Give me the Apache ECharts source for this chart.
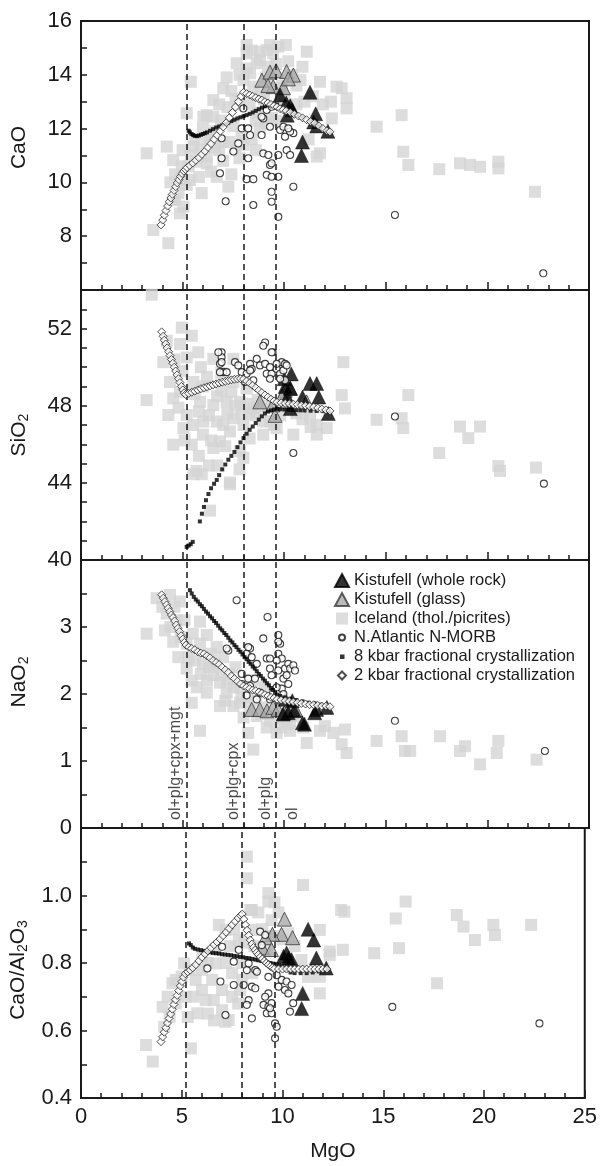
<!DOCTYPE html>
<html>
<head>
<meta charset="utf-8">
<script src="https://cdn.jsdelivr.net/npm/echarts@6/dist/echarts.min.js"></script>
<style>
html,body{margin:0;padding:0;background:#fff;}
#chart{width:600px;height:1166px;}
</style>
</head>
<body>
<div id="chart"></div>
<script>
// ---------- axis / label data ----------
const mgoTickLabels = [0, 5, 10, 15, 20, 25];
const caoTickLabels = [8, 10, 12, 14, 16];
const sio2TickLabels = [40, 44, 48, 52];
const naTickLabels = [0, 1, 2, 3];
const ratioTickLabels = [0.4, 0.6, 0.8, 1.0];

const mgoBoundaries = [5.2, 8.0, 9.6];
const phaseLabels = ['ol+plg+cpx+mgt', 'ol+plg+cpx', 'ol+plg', 'ol'];
const phaseLabelX = [4.66, 7.5, 9.06, 10.43];
const phaseLabelY = [0.12, 0.12, 0.12, 0.12];

const seriesNames = ['Kistufell (whole rock)', 'Kistufell (glass)', 'Iceland (thol./picrites)',
  'N.Atlantic N-MORB', '8 kbar fractional crystallization', '2 kbar fractional crystallization'];

// ---------- CaO panel ----------
const caoRock = [[9.8,13.25],[10.15,12.5],[10.3,12.85],[10.4,12.7],[11.27,13.35],[11.55,12.55],[11.6,12.1],[12.15,11.9],[10.9,11.5],[10.85,11.0],[11.45,12.25],[10.1,12.95]];
const caoGlass = [[8.9,13.8],[9.3,14.1],[9.6,14.15],[9.46,13.56],[9.96,13.52],[10.12,14.12],[10.45,13.99],[9.2,13.6],[10.2,13.85]];
const caoIceland = [[3.23,11.08],[3.56,8.23],[4.3,7.74],[4.22,11.33],[4.54,10.83],[4.63,10.3],[4.63,9.35],[4.87,8.85],[4.54,9.35],[5.04,9.1],[5.2,9.9],[4.96,10.6],[5.36,10.09],[5.69,10.77],[5.53,11.33],[5.94,9.6],[6.19,10.71],[6.19,10.96],[6.35,11.58],[6.68,10.21],[7.25,9.84],[6.8,11.2],[7.3,11.5],[7.0,10.8],[7.6,11.3],[7.9,11.7],[8.4,11.6],[8.8,12.0],[7.5,12.1],[6.9,12.3],[6.0,12.0],[5.2,12.57],[6.02,12.44],[6.19,12.5],[6.51,12.44],[6.51,13.06],[5.4,13.74],[7.17,13.9],[7.66,14.43],[8.15,14.24],[8.15,15.11],[8.15,14.8],[8.32,14.06],[8.65,14.43],[8.81,14.55],[8.81,14.86],[9.14,14.92],[9.3,15.11],[9.46,14.8],[9.71,15.05],[10.08,15.11],[8.48,13.56],[8.0,13.8],[8.8,13.4],[9.1,13.9],[9.6,14.4],[10.2,14.5],[10.6,13.6],[10.0,13.1],[9.4,12.4],[10.6,12.9],[11.0,13.0],[11.11,14.86],[11.76,13.74],[12.58,13.56],[12.83,13.5],[13.07,13.13],[13.07,12.75],[12.34,12.38],[11.6,10.96],[11.76,11.08],[11.2,11.6],[6.6,11.9],[7.2,12.8],[7.8,12.9],[8.6,12.3],[5.8,10.2],[5.0,11.2],[9.9,13.6],[10.8,13.8],
  [4.4,10.0],[4.8,9.6],[5.3,10.6],[5.6,11.6],[5.9,11.2],[6.4,10.4],[6.6,11.3],[7.0,11.5],[7.4,10.3],[7.8,10.9],[8.0,11.4],[8.6,11.2],[8.7,12.6],[9.1,12.2],[9.6,12.3],[9.8,13.5],[9.2,14.3],[8.4,14.9],[7.4,13.4],[6.8,12.9],[7.8,14.0],[10.4,14.0],[10.9,14.3],[11.4,13.2],[11.9,12.9],[12.3,13.0],[7.6,13.1],[8.3,12.9],[9.0,13.1],[7.0,13.5],[6.2,11.6],[5.4,11.0],[4.9,10.1],
  [14.55,12.07],[15.78,12.5],[15.86,11.14],[16.11,10.65],[17.63,10.49],[18.65,10.71],[19.14,10.65],[19.64,10.58],[20.54,10.77],[20.54,10.52],[22.34,9.65]];
const caoMorb = [[6.92,11.64],[6.92,10.9],[6.84,10.34],[7.12,9.3],[7.5,11.15],[7.74,11.45],[7.91,12.01],[7.99,12.75],[8.23,12.01],[8.32,11.76],[8.23,10.9],[8.15,10.12],[8.48,10.12],[8.48,9.16],[8.89,11.76],[8.97,12.38],[8.89,12.44],[9.14,12.69],[8.97,11.08],[9.22,11.02],[9.3,10.65],[9.14,10.28],[9.38,10.21],[9.38,10.71],[9.71,10.21],[9.38,9.65],[9.38,9.28],[9.71,8.72],[9.3,12.07],[9.38,12.81],[9.71,11.02],[9.8,11.95],[9.96,12.07],[10.04,11.7],[10.12,11.2],[10.29,11.02],[10.45,11.83],[10.29,11.89],[10.2,12.01],[10.45,9.84],[15.45,8.79],[22.75,6.62]];
const cao8kbar = [[5.3,11.92],[5.36,11.86],[5.44,11.8],[5.52,11.76],[5.6,11.73],[5.7,11.72],[5.8,11.74],[5.9,11.77],[6.0,11.8],[6.1,11.83],[6.2,11.86],[6.35,11.92],[6.5,11.98],[6.65,12.04],[6.8,12.08],[6.95,12.12],[7.1,12.17],[7.25,12.22],[7.4,12.28],[7.55,12.33],[7.7,12.38],[7.85,12.42],[8.0,12.46],[8.15,12.5],[8.3,12.55],[8.45,12.6],[8.6,12.66],[8.75,12.72],[8.9,12.78],[9.05,12.83],[9.2,12.87],[9.35,12.9],[9.5,12.92],[9.65,12.9],[9.8,12.8],[10.0,12.7],[10.3,12.6],[10.6,12.5],[10.9,12.4],[11.2,12.3],[11.5,12.2],[11.8,12.05],[12.1,11.92]];
const cao2kbar = [[3.94,8.42],[4.02,8.6],[4.1,8.78],[4.18,8.95],[4.26,9.12],[4.34,9.28],[4.42,9.42],[4.5,9.56],[4.58,9.7],[4.66,9.84],[4.74,9.98],[4.82,10.1],[4.9,10.22],[4.98,10.33],[5.06,10.42],[5.14,10.48],[5.22,10.55],[5.35,10.63],[5.5,10.72],[5.65,10.82],[5.8,10.92],[5.95,11.04],[6.1,11.16],[6.25,11.3],[6.4,11.44],[6.55,11.6],[6.7,11.75],[6.85,11.9],[7.0,12.06],[7.15,12.22],[7.3,12.4],[7.45,12.6],[7.6,12.8],[7.75,13.0],[7.88,13.2],[8.0,13.35],[8.15,13.3],[8.3,13.25],[8.45,13.2],[8.6,13.15],[8.75,13.1],[8.9,13.06],[9.05,13.0],[9.2,12.95],[9.35,12.9],[9.5,12.85],[9.65,12.8],[9.8,12.74],[9.95,12.7],[10.1,12.66],[10.3,12.6],[10.5,12.53],[10.7,12.47],[10.9,12.4],[11.1,12.33],[11.3,12.26],[11.5,12.2],[11.7,12.1],[11.9,12.0],[12.1,11.92],[12.25,11.88]];

// ---------- SiO2 panel ----------
const sio2Rock = [[10.0,49.4],[10.35,49.65],[10.05,49.0],[10.3,48.9],[11.27,49.15],[11.6,49.15],[10.9,48.45],[11.7,48.45],[12.17,47.6],[10.3,47.85],[10.15,48.45]];
const sio2Glass = [[8.8,48.2],[9.45,48.05],[9.55,47.5],[10.05,48.8],[10.3,48.9],[10.1,48.2],[11.1,48.2],[9.9,48.5]];
const sio2Iceland = [[3.48,53.76],[3.23,48.29],[4.05,50.26],[4.22,51.37],[4.96,52.05],[4.87,51.2],[5.45,51.63],[5.77,50.77],[4.38,49.23],[4.54,48.38],[4.3,47.52],[5.2,47.52],[4.54,45.98],[5.45,45.98],[5.04,46.84],[5.53,44.45],[5.94,44.45],[6.35,42.56],[7.33,43.93],[6.51,45.81],[6.84,46.15],[6.02,47.18],[6.68,47.18],[7.5,47.35],[7.33,46.67],[7.83,45.64],[7.99,45.3],[5.86,48.2],[6.51,48.03],[7.17,48.2],[7.83,48.2],[7.5,49.23],[6.51,50.43],[7.5,50.43],[8.15,48.89],[8.48,47.86],[8.97,47.18],[8.97,46.5],[10.45,46.5],[9.63,46.84],[4.87,48.72],[5.53,49.23],[5.69,44.62],[7.33,44.02],[11.6,47.01],[11.27,47.52],[12.09,46.84],[11.6,46.5],[6.2,49.5],[6.9,48.8],[8.7,48.3],[9.2,47.9],[9.8,47.5],[10.9,47.3],[5.2,50.5],[6.0,46.5],[8.0,47.0],[6.3,44.9],[7.8,44.7],[5.0,49.8],[5.9,50.0],[6.9,49.7],[7.2,47.6],[8.3,47.6],[9.3,47.2],
  [5.5,47.0],[5.8,47.7],[6.3,47.5],[6.7,48.5],[7.0,47.0],[7.6,48.0],[7.9,47.6],[8.2,48.1],[8.6,47.5],[9.1,48.0],[9.5,47.0],[6.4,46.2],[7.1,45.9],[5.6,48.6],[4.8,47.9],[5.1,46.2],[5.8,45.4],[6.7,44.9],[7.4,48.7],[6.0,49.0],[8.3,46.3],[4.6,50.4],[10.6,47.6],[11.3,46.9],
  [12.91,50.26],[12.83,48.55],[12.99,47.86],[14.55,47.27],[16.11,48.55],[15.78,47.35],[15.86,46.84],[17.63,45.55],[18.65,46.92],[19.06,46.32],[19.64,46.92],[20.54,44.87],[20.62,44.62],[22.39,44.79]];
const sio2Morb = [[9.06,51.28],[8.97,51.11],[9.43,50.77],[6.92,50.77],[6.92,50.51],[6.84,50.17],[7.0,49.74],[7.58,50.26],[7.74,50.09],[7.91,49.74],[8.32,50.17],[8.4,49.91],[8.65,50.43],[8.81,50.09],[9.06,50.17],[9.3,50.0],[9.14,49.66],[9.38,49.66],[9.63,49.91],[9.88,50.26],[10.04,50.17],[9.8,49.66],[9.3,49.4],[8.15,49.66],[8.07,49.23],[8.48,49.32],[8.32,49.83],[9.96,49.83],[10.04,49.32],[6.76,50.77],[6.92,50.26],[6.84,49.74],[7.17,49.74],[9.38,50.77],[9.63,50.17],[10.12,50.09],[9.8,49.4],[10.45,45.55],[15.45,47.44],[22.78,43.96]];
const sio28kbar = [[5.2,40.68],[5.3,40.75],[5.4,40.82],[5.5,40.94],[5.85,42.0],[5.95,42.4],[6.05,42.75],[6.15,43.1],[6.27,43.42],[6.4,43.72],[6.55,43.95],[6.68,44.15],[6.8,44.4],[6.95,44.7],[7.1,44.95],[7.25,45.2],[7.4,45.4],[7.55,45.6],[7.7,45.85],[7.85,46.1],[8.0,46.32],[8.15,46.55],[8.3,46.75],[8.45,46.92],[8.6,47.1],[8.75,47.28],[8.9,47.45],[9.05,47.6],[9.2,47.7],[9.35,47.76],[9.5,47.8],[9.65,47.84],[9.8,47.82],[10.0,47.8],[10.2,47.79],[10.4,47.78],[10.6,47.77],[10.8,47.76],[11.0,47.75],[11.3,47.74],[11.6,47.73],[11.9,47.72],[12.2,47.7]];
const sio22kbar = [[3.97,51.83],[4.04,51.6],[4.1,51.4],[4.17,51.2],[4.24,51.0],[4.31,50.8],[4.38,50.6],[4.45,50.4],[4.52,50.2],[4.59,50.0],[4.66,49.8],[4.73,49.6],[4.8,49.4],[4.87,49.2],[4.94,49.0],[5.01,48.82],[5.08,48.66],[5.15,48.58],[5.3,48.64],[5.45,48.7],[5.6,48.76],[5.75,48.82],[5.9,48.88],[6.05,48.93],[6.2,48.98],[6.35,49.03],[6.5,49.08],[6.65,49.13],[6.8,49.18],[6.95,49.22],[7.1,49.26],[7.25,49.3],[7.4,49.34],[7.55,49.37],[7.7,49.39],[7.85,49.4],[8.0,49.38],[8.15,49.28],[8.3,49.17],[8.45,49.05],[8.6,48.93],[8.75,48.8],[8.9,48.68],[9.05,48.56],[9.2,48.45],[9.35,48.34],[9.5,48.25],[9.65,48.18],[9.85,48.15],[10.05,48.12],[10.25,48.1],[10.45,48.08],[10.65,48.06],[10.85,48.03],[11.05,48.0],[11.25,47.97],[11.45,47.93],[11.65,47.88],[11.85,47.83],[12.05,47.78],[12.25,47.73]];

// ---------- NaO2 panel ----------
const naRock = [[10.05,1.92],[10.4,1.9],[10.2,1.72],[9.95,1.7],[10.9,1.57],[11.0,1.55],[11.5,1.72],[11.6,1.77],[12.1,1.8],[10.5,1.75]];
const naGlass = [[8.4,1.77],[8.8,1.77],[9.15,1.75],[9.45,1.8],[9.7,1.77],[10.0,1.72],[10.3,1.77],[10.55,1.77]];
const naIceland = [[3.23,2.9],[3.72,3.43],[4.38,3.48],[4.87,3.38],[4.22,3.2],[4.13,2.95],[4.54,2.78],[4.79,2.55],[5.2,2.38],[5.45,2.2],[5.45,1.87],[5.86,1.45],[5.86,3.08],[6.19,2.88],[6.68,2.7],[6.51,2.28],[6.84,2.17],[7.17,2.02],[7.5,1.82],[7.83,1.87],[8.23,1.42],[8.48,1.17],[8.65,1.67],[9.14,1.5],[9.63,1.42],[10.12,1.57],[5.86,2.75],[6.19,2.02],[6.84,1.82],[5.1,3.1],[5.5,2.9],[6.0,2.45],[7.0,2.55],[7.3,2.3],[7.8,2.1],[8.2,1.95],[8.6,1.9],[9.0,1.8],[9.4,1.7],[9.9,1.65],[4.6,3.3],[5.3,2.55],[6.4,2.6],[7.6,2.4],[8.4,2.2],[9.0,2.1],
  [4.0,3.3],[4.4,3.0],[4.9,2.85],[5.2,2.75],[5.6,2.5],[5.9,2.3],[6.3,2.4],[6.6,2.45],[6.9,2.3],[7.2,2.2],[7.5,2.1],[7.9,1.95],[8.3,1.8],[8.9,1.7],[9.3,1.6],[9.8,1.5],[10.3,1.55],[6.2,2.2],[5.7,2.1],[7.1,1.9],[8.0,1.65],[4.7,3.1],
  [10.45,1.67],[10.29,1.45],[10.94,1.5],[11.11,1.27],[11.76,1.45],[12.42,1.42],[12.0,1.52],[12.99,1.47],[12.83,1.25],[13.07,1.12],[14.55,1.3],[15.78,1.37],[15.94,1.15],[16.2,1.15],[17.67,1.37],[18.65,1.15],[18.9,1.22],[19.64,0.95],[20.54,1.3],[20.46,1.12],[22.42,1.02]];
const naMorb = [[7.66,3.4],[9.18,3.15],[9.71,2.88],[9.8,2.75],[9.71,2.6],[8.97,2.83],[8.32,2.68],[8.15,2.6],[8.4,2.55],[8.65,2.45],[7.25,2.65],[7.91,2.3],[8.23,2.23],[8.56,2.23],[7.91,2.15],[8.32,2.12],[9.14,2.53],[9.3,2.38],[9.38,2.28],[9.71,2.35],[9.96,2.23],[10.04,2.38],[10.2,2.45],[10.29,2.38],[10.45,2.43],[10.53,2.35],[10.12,2.28],[10.2,2.15],[9.88,2.08],[8.15,1.98],[8.65,1.92],[8.81,2.02],[9.46,2.02],[9.3,1.92],[9.63,2.1],[9.96,2.0],[7.17,2.68],[8.23,2.7],[9.71,2.78],[9.88,2.53],[9.63,2.5],[9.3,2.53],[15.45,1.6],[22.83,1.15]];
const na8kbar = [[5.36,3.55],[5.45,3.5],[5.55,3.45],[5.65,3.41],[5.75,3.38],[5.85,3.34],[5.95,3.31],[6.05,3.27],[6.15,3.23],[6.25,3.2],[6.35,3.16],[6.45,3.13],[6.55,3.09],[6.65,3.06],[6.75,3.02],[6.85,2.98],[6.95,2.95],[7.05,2.91],[7.15,2.88],[7.25,2.84],[7.35,2.8],[7.45,2.77],[7.55,2.73],[7.65,2.7],[7.75,2.66],[7.85,2.63],[7.95,2.59],[8.05,2.55],[8.15,2.52],[8.25,2.48],[8.35,2.45],[8.45,2.41],[8.55,2.38],[8.65,2.34],[8.75,2.3],[8.85,2.27],[8.95,2.23],[9.05,2.2],[9.15,2.16],[9.25,2.13],[9.35,2.09],[9.45,2.06],[9.55,2.02],[9.65,1.99],[9.8,1.97],[10.0,1.95],[10.3,1.93],[10.6,1.91],[10.9,1.89],[11.2,1.87],[11.5,1.86],[11.8,1.84],[12.1,1.82]];
const na2kbar = [[3.97,3.48],[4.05,3.43],[4.13,3.38],[4.21,3.33],[4.29,3.28],[4.37,3.23],[4.45,3.18],[4.53,3.14],[4.61,3.09],[4.69,3.03],[4.77,2.98],[4.85,2.93],[4.93,2.87],[5.01,2.82],[5.09,2.77],[5.17,2.73],[5.3,2.7],[5.45,2.68],[5.6,2.66],[5.75,2.63],[5.9,2.61],[6.05,2.6],[6.2,2.57],[6.35,2.54],[6.5,2.5],[6.65,2.47],[6.8,2.44],[6.95,2.4],[7.1,2.36],[7.25,2.32],[7.4,2.27],[7.55,2.23],[7.7,2.19],[7.85,2.15],[8.0,2.12],[8.15,2.1],[8.3,2.08],[8.45,2.06],[8.6,2.05],[8.75,2.03],[8.9,2.01],[9.05,1.99],[9.2,1.97],[9.35,1.95],[9.5,1.94],[9.65,1.92],[9.85,1.91],[10.05,1.9],[10.25,1.89],[10.45,1.88],[10.65,1.87],[10.85,1.86],[11.05,1.85],[11.25,1.84],[11.45,1.84],[11.65,1.83],[11.85,1.82],[12.05,1.82],[12.25,1.81]];

// ---------- CaO/Al2O3 panel ----------
const ratioRock = [[11.27,0.9],[11.55,0.868],[11.68,0.815],[11.0,0.71],[10.95,0.665],[12.17,0.785],[10.05,0.82],[10.3,0.815],[10.45,0.81],[10.2,0.83]];
const ratioGlass = [[10.1,0.93],[9.95,0.885],[10.5,0.875],[9.5,0.885],[9.15,0.875],[9.0,0.845],[9.45,0.84]];
const ratioIceland = [[3.23,0.557],[3.56,0.508],[5.45,0.547],[4.05,0.67],[4.13,0.611],[4.54,0.74],[4.71,0.75],[5.12,0.799],[5.77,0.651],[6.02,0.819],[6.68,0.799],[7.17,0.626],[6.59,0.69],[7.5,0.7],[6.51,0.75],[5.69,0.75],[5.2,0.7],[8.23,1.115],[8.23,1.051],[8.48,0.957],[9.3,0.982],[9.3,1.007],[8.48,0.898],[7.17,0.898],[7.83,0.868],[7.5,0.77],[8.48,0.77],[9.14,0.839],[9.46,0.927],[7.33,0.631],[6.19,0.69],[6.84,0.913],[8.4,0.957],[10.29,0.888],[10.94,0.809],[11.27,0.759],[11.85,0.71],[11.85,0.759],[6.0,0.78],[7.0,0.72],[8.0,0.8],[9.0,0.9],[9.8,0.95],[10.6,0.85],[4.4,0.64],[7.9,0.72],[8.9,0.82],[6.3,0.65],
  [4.3,0.7],[4.7,0.68],[5.0,0.76],[5.4,0.78],[5.6,0.7],[6.0,0.72],[6.3,0.8],[6.7,0.84],[7.2,0.8],[7.4,0.85],[7.6,0.9],[8.1,0.86],[8.6,0.85],[8.8,0.95],[9.6,0.98],[9.5,0.88],[10.0,0.87],[8.0,0.75],[7.0,0.66],[6.6,0.63],[7.8,0.68],[5.3,0.64],
  [11.02,1.031],[12.91,0.957],[11.85,0.898],[12.99,0.839],[12.34,0.834],[13.07,0.952],[12.34,0.824],[14.55,0.829],[16.11,0.982],[15.62,0.932],[15.78,0.844],[17.67,0.74],[18.65,0.942],[18.98,0.908],[19.55,0.868],[20.46,0.913],[20.54,0.883],[22.34,0.913]];
const ratioMorb = [[7.0,0.848],[6.92,0.745],[6.27,0.784],[7.17,0.646],[7.58,0.804],[7.58,0.735],[7.83,0.839],[8.07,0.735],[8.48,0.73],[8.23,0.779],[8.32,0.799],[8.65,0.779],[8.32,0.69],[8.23,0.676],[8.48,0.636],[8.89,0.893],[9.14,0.883],[9.3,0.759],[9.3,0.71],[9.14,0.7],[9.06,0.676],[9.3,0.671],[9.22,0.651],[9.46,0.681],[9.46,0.651],[9.63,0.621],[9.71,0.611],[9.63,0.577],[9.8,0.73],[9.96,0.75],[10.12,0.72],[10.2,0.745],[10.45,0.735],[10.29,0.71],[10.53,0.681],[10.37,0.656],[9.71,0.764],[8.97,0.853],[8.73,0.774],[8.65,0.725],[9.38,0.666],[15.45,0.67],[22.75,0.621]];
const ratio8kbar = [[5.36,0.858],[5.45,0.853],[5.55,0.846],[5.65,0.842],[5.8,0.84],[5.95,0.838],[6.1,0.836],[6.25,0.834],[6.4,0.832],[6.55,0.83],[6.7,0.829],[6.85,0.828],[7.0,0.826],[7.15,0.825],[7.3,0.824],[7.45,0.823],[7.6,0.821],[7.75,0.82],[7.9,0.818],[8.05,0.817],[8.2,0.815],[8.35,0.814],[8.5,0.812],[8.65,0.81],[8.8,0.808],[8.95,0.806],[9.1,0.804],[9.25,0.802],[9.4,0.8],[9.55,0.798],[9.7,0.796],[9.85,0.794],[10.0,0.79],[10.2,0.78],[10.4,0.772],[10.6,0.77],[10.9,0.77],[11.2,0.77],[11.5,0.772],[11.8,0.775],[12.1,0.778]];
const ratio2kbar = [[3.97,0.567],[4.05,0.581],[4.13,0.595],[4.21,0.608],[4.29,0.622],[4.37,0.636],[4.45,0.649],[4.53,0.663],[4.61,0.677],[4.69,0.691],[4.77,0.704],[4.85,0.718],[4.93,0.732],[5.01,0.745],[5.09,0.758],[5.18,0.768],[5.3,0.774],[5.42,0.779],[5.55,0.786],[5.7,0.795],[5.85,0.806],[6.0,0.817],[6.15,0.827],[6.3,0.836],[6.45,0.845],[6.6,0.854],[6.75,0.862],[6.9,0.871],[7.05,0.881],[7.2,0.891],[7.35,0.902],[7.5,0.913],[7.65,0.923],[7.8,0.933],[7.92,0.941],[8.0,0.945],[8.08,0.93],[8.16,0.913],[8.24,0.897],[8.32,0.882],[8.4,0.868],[8.48,0.856],[8.56,0.846],[8.64,0.838],[8.72,0.831],[8.8,0.825],[8.9,0.818],[9.0,0.812],[9.1,0.806],[9.2,0.8],[9.3,0.795],[9.4,0.79],[9.5,0.786],[9.6,0.783],[9.8,0.782],[10.0,0.782],[10.2,0.782],[10.4,0.782],[10.6,0.782],[10.8,0.782],[11.0,0.782],[11.2,0.782],[11.4,0.782],[11.6,0.782],[11.8,0.782],[12.0,0.782],[12.2,0.782]];

// ---------- chart ----------
const FONT = "'Liberation Sans', Arial, sans-serif";
const INK = '#1a1a1a';

const panels = [
  {top: 21, height: 269, min: 6, max: 16, interval: 1, ticks: caoTickLabels, fmt: v => String(v),
   name: '{b|CaO}', pad: [0, 0, 0, 16],
   d: [caoRock, caoGlass, caoIceland, caoMorb, cao8kbar, cao2kbar]},
  {top: 290, height: 270, min: 40, max: 54, interval: 1, ticks: sio2TickLabels, fmt: v => String(v),
   name: '{b|SiO}{s|2}', pad: [0, 20, 0, 0],
   d: [sio2Rock, sio2Glass, sio2Iceland, sio2Morb, sio28kbar, sio22kbar]},
  {top: 560, height: 268, min: 0, max: 4, interval: 0.5, ticks: naTickLabels, fmt: v => String(v),
   name: '{b|NaO}{s|2}', pad: [0, 0, 0, 24],
   d: [naRock, naGlass, naIceland, naMorb, na8kbar, na2kbar]},
  {top: 828, height: 270, min: 0.4, max: 1.2, interval: 0.1, ticks: ratioTickLabels, fmt: v => v.toFixed(1),
   name: '{b|CaO/Al}{s|2}{b|O}{s|3}', pad: [0, 14, 0, 0],
   d: [ratioRock, ratioGlass, ratioIceland, ratioMorb, ratio8kbar, ratio2kbar]}
];

const grid = [], xAxis = [], yAxis = [], series = [];
const styles = [
  {symbol: 'triangle', symbolSize: 14, itemStyle: {color: '#000', borderColor: '#000', borderWidth: 0.5}, z: 3},
  {symbol: 'triangle', symbolSize: 14, itemStyle: {color: '#a9a9a9', borderColor: '#3a3a3a', borderWidth: 1}, z: 2},
  {symbol: 'rect', symbolSize: 12, itemStyle: {color: '#d4d4d4'}, z: 1},
  {symbol: 'circle', symbolSize: 7, itemStyle: {color: '#fff', borderColor: '#111', borderWidth: 1.1}, z: 4},
  {symbol: 'rect', symbolSize: 4, itemStyle: {color: '#000'}, z: 5},
  {symbol: 'diamond', symbolSize: 8, itemStyle: {color: '#fff', borderColor: '#222', borderWidth: 1}, z: 6}
];

panels.forEach((p, i) => {
  grid.push({left: 81, right: 11, top: p.top, height: p.height, show: true,
    borderColor: INK, borderWidth: 2, backgroundColor: 'transparent'});
  xAxis.push({
    type: 'value', gridIndex: i, min: 0, max: 25, interval: 5,
    axisLine: {show: true, onZero: false, lineStyle: {color: INK, width: 2}},
    axisTick: {show: true, inside: true, length: 8, lineStyle: {color: INK, width: 1.5}},
    minorTick: {show: true, splitNumber: 5, length: 5, lineStyle: {color: INK, width: 1.5}},
    splitLine: {show: false},
    axisLabel: {show: i === 3, fontSize: 22, color: INK, fontFamily: FONT, margin: 8,
      formatter: v => mgoTickLabels.includes(v) ? String(v) : ''},
    name: i === 3 ? 'MgO' : '', nameLocation: 'middle', nameGap: 43,
    nameTextStyle: {fontSize: 21, color: INK, fontFamily: FONT}
  });
  yAxis.push({
    type: 'value', gridIndex: i, min: p.min, max: p.max, interval: p.interval,
    axisLine: {show: true, onZero: false, lineStyle: {color: INK, width: 2}},
    axisTick: {show: true, inside: true, length: 6, lineStyle: {color: INK, width: 1.5}},
    splitLine: {show: false},
    axisLabel: {fontSize: 22, color: INK, fontFamily: FONT, margin: 9,
      formatter: v => p.ticks.some(t => Math.abs(t - v) < 1e-6) ? p.fmt(v) : ''},
    name: p.name, nameLocation: 'middle', nameRotate: 90, nameGap: 50,
    nameTextStyle: {color: INK, fontFamily: FONT, padding: p.pad,
      rich: {b: {fontSize: 21, lineHeight: 24, color: INK, fontFamily: FONT},
             s: {fontSize: 14, lineHeight: 13, verticalAlign: 'bottom', color: INK, fontFamily: FONT}}}
  });
  p.d.forEach((data, k) => {
    const s = Object.assign({
      name: seriesNames[k], type: 'scatter', xAxisIndex: i, yAxisIndex: i,
      data: data, silent: true
    }, styles[k]);
    if (k === 2) {
      s.markLine = {silent: true, symbol: ['none', 'none'], label: {show: false},
        lineStyle: {type: [6, 4], color: INK, width: 1.5},
        data: mgoBoundaries.map(v => ({xAxis: v}))};
    }
    series.push(s);
  });
});

series.push({
  type: 'scatter', xAxisIndex: 2, yAxisIndex: 2, symbol: 'circle', symbolSize: 1,
  itemStyle: {color: 'transparent'}, silent: true, z: 7,
  data: phaseLabels.map((t, j) => ({name: t, value: [phaseLabelX[j], phaseLabelY[j]]})),
  label: {show: true, formatter: '{b}', position: 'inside', rotate: 90, align: 'left',
    verticalAlign: 'middle', fontSize: 16, color: INK, fontFamily: FONT}
});

const chart = echarts.init(document.getElementById('chart'), null, {renderer: 'canvas'});
chart.setOption({
  animation: false,
  backgroundColor: '#fff',
  textStyle: {fontFamily: FONT},
  grid, xAxis, yAxis, series,
  legend: {
    orient: 'vertical', left: 329, top: 567, itemWidth: 14, itemHeight: 13, itemGap: 2,
    selectedMode: false,
    textStyle: {fontSize: 16.5, color: INK, fontFamily: FONT},
    data: [
      {name: seriesNames[0], icon: 'triangle'},
      {name: seriesNames[1], icon: 'triangle'},
      {name: seriesNames[2], icon: 'path://M0,0M14,13M1,0.5H13V12.5H1Z'},
      {name: seriesNames[3], icon: 'path://M0,0M14,13M4,6.5A3,3,0,1,1,10,6.5A3,3,0,1,1,4,6.5Z'},
      {name: seriesNames[4], icon: 'path://M0,0M14,13M5,4.5H9.5V9H5Z'},
      {name: seriesNames[5], icon: 'path://M0,0M14,13M7,2.5L11,6.5L7,10.5L3,6.5Z'}
    ]
  }
});
</script>
</body>
</html>
